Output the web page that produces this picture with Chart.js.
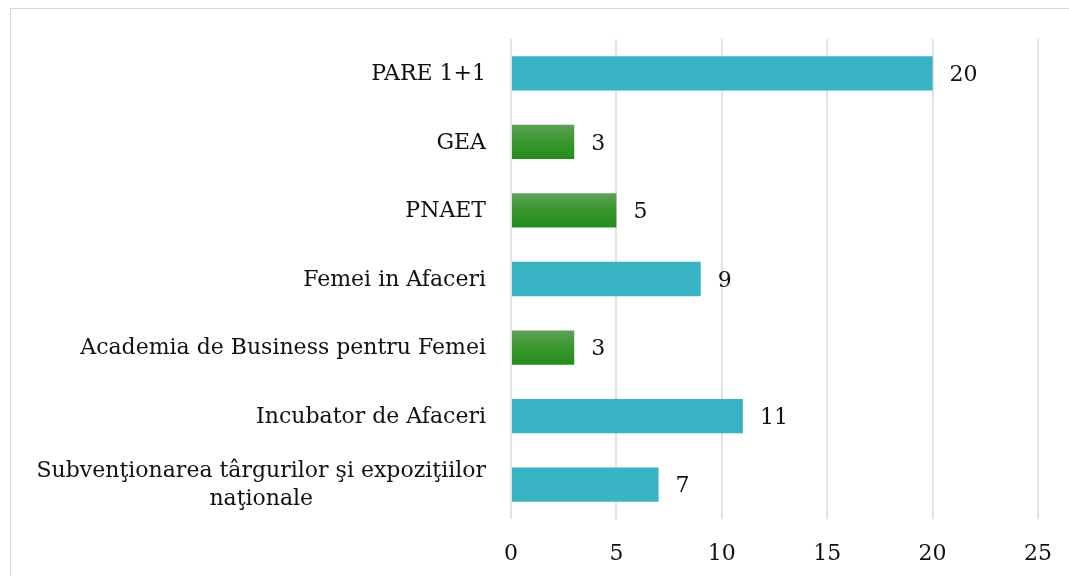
<!DOCTYPE html>
<html>
<head>
<meta charset="utf-8">
<script src="https://cdn.jsdelivr.net/npm/chart.js@4/dist/chart.umd.min.js"></script>
<style>
  html, body { margin: 0; padding: 0; background: #fff; overflow: hidden; }
  #wrap { position: relative; width: 1069px; height: 576px; }
  #frame { position: absolute; left: 10px; top: 8px; width: 1100px; height: 600px; border: 1px solid #d9d9d9; }
  canvas { position: absolute; left: 0; top: 0; }
</style>
</head>
<body>
<div id="wrap">
  <div id="frame"></div>
  <canvas id="grafico" width="1069" height="576"></canvas>
</div>
<script>
// dados do grafico
const categorias = [
    'PARE 1+1',
    'GEA',
    'PNAET',
    'Femei in Afaceri',
    'Academia de Business pentru Femei',
    'Incubator de Afaceri',
    ['Subvenţionarea târgurilor şi expoziţiilor', 'naţionale']
];
const valores = [20, 3, 5, 9, 3, 11, 7];
const ticksX = [0, 5, 10, 15, 20, 25];

// estilo de cada barra (t = turquesa, g = verde com degrade)
const tipoCor = ['t', 'g', 'g', 't', 'g', 't', 't'];

const FONTE = '"DejaVu Serif", serif';
const TAM = 22;
const COR_TEXTO = '#111';
const TURQUESA = '#38b3c4';

// desenha os rotulos do eixo y centralizados entre si e alinhados a direita
const rotulosY = {
    id: 'rotulosY',
    afterDraw(chart) {
        const ctx = chart.ctx;
        const escala = chart.scales.y;
        ctx.save();
        ctx.font = TAM + 'px ' + FONTE;
        ctx.fillStyle = COR_TEXTO;
        ctx.textBaseline = 'middle';
        ctx.textAlign = 'center';
        const direita = escala.right - 25;
        const altLinha = 28;
        categorias.forEach((cat, i) => {
            const linhas = Array.isArray(cat) ? cat : [cat];
            const larg = Math.max(...linhas.map(l => ctx.measureText(l).width));
            const cx = direita - larg / 2;
            const y0 = escala.getPixelForTick(i) + 1 - (linhas.length - 1) * altLinha / 2;
            linhas.forEach((l, k) => ctx.fillText(l, cx, y0 + k * altLinha));
        });
        ctx.restore();
    }
};

// valores na ponta das barras e degrade das barras verdes
const valoresBarras = {
    id: 'valoresBarras',
    beforeDatasetsDraw(chart) {
        const ctx = chart.ctx;
        chart.getDatasetMeta(0).data.forEach((barra, i) => {
            if (tipoCor[i] !== 'g') return;
            const h = barra.height;
            const g = ctx.createLinearGradient(0, barra.y - h / 2, 0, barra.y + h / 2);
            g.addColorStop(0, '#5ea255');
            g.addColorStop(0.5, '#3a962f');
            g.addColorStop(1, '#248c1b');
            barra.options.backgroundColor = g;
        });
    },
    afterDatasetsDraw(chart) {
        const ctx = chart.ctx;
        ctx.save();
        ctx.font = TAM + 'px ' + FONTE;
        ctx.fillStyle = COR_TEXTO;
        ctx.textAlign = 'left';
        ctx.textBaseline = 'middle';
        chart.getDatasetMeta(0).data.forEach((barra, i) => {
            ctx.fillText(String(valores[i]), barra.x + 17, barra.y + 2);
        });
        ctx.restore();
    }
};

new Chart(document.getElementById('grafico'), {
    type: 'bar',
    data: {
        labels: categorias,
        datasets: [{
            data: valores,
            backgroundColor: tipoCor.map(t => t === 'g' ? '#3a962f' : TURQUESA),
            borderWidth: 0,
            categoryPercentage: 1,
            barPercentage: 0.5
        }]
    },
    options: {
        indexAxis: 'y',
        responsive: false,
        animation: false,
        layout: { padding: { top: 39, right: 31, bottom: 0, left: 0 } },
        plugins: { legend: { display: false }, tooltip: { enabled: false } },
        scales: {
            x: {
                min: 0,
                max: 25,
                afterBuildTicks(scale) { scale.ticks = ticksX.map(v => ({ value: v })); },
                afterFit(scale) {
                    scale.height = 57;
                    scale.paddingLeft = 0;
                    scale.paddingRight = 0;
                },
                grid: { color: '#e3e3e3', lineWidth: 2, drawTicks: false },
                border: { display: false },
                ticks: { padding: 22, color: COR_TEXTO, font: { family: FONTE, size: TAM } }
            },
            y: {
                afterFit(scale) {
                    scale.width = 511;
                    scale.paddingTop = 0;
                    scale.paddingBottom = 0;
                },
                grid: { display: false },
                border: { display: false },
                ticks: { display: false }
            }
        }
    },
    plugins: [rotulosY, valoresBarras]
});
</script>
</body>
</html>
